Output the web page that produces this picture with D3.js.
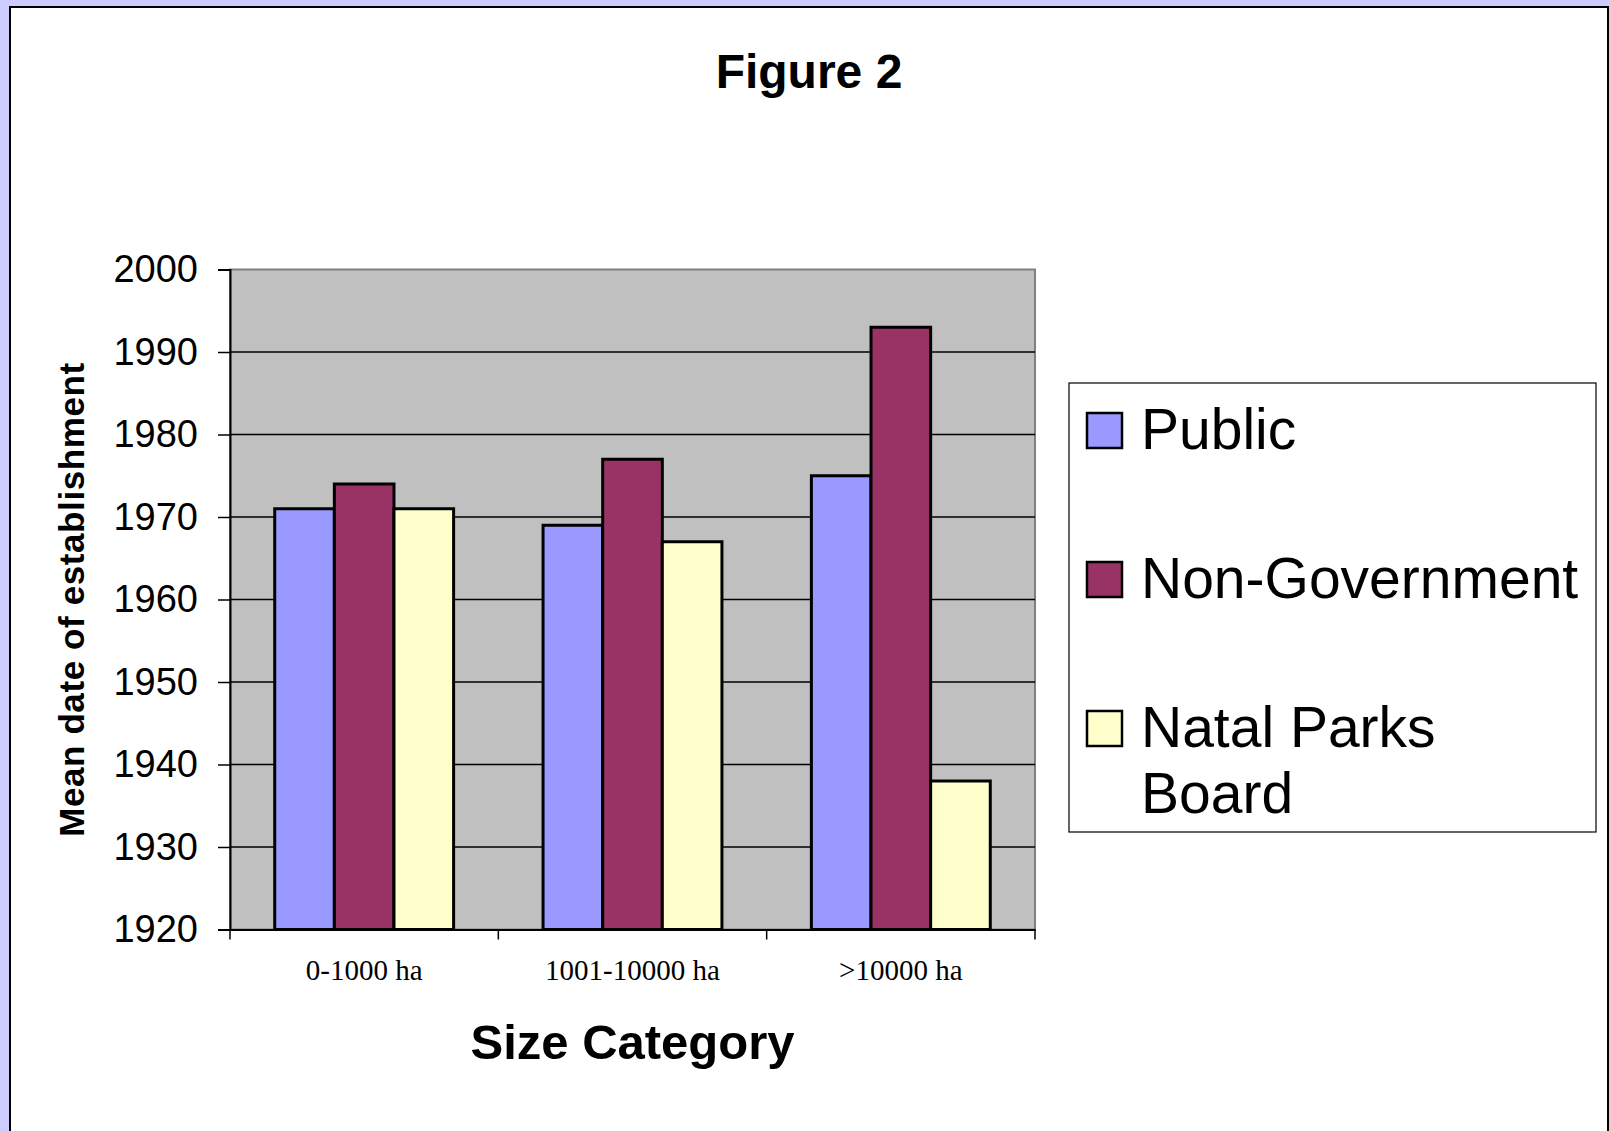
<!DOCTYPE html>
<html lang="en">
  <head>
    <meta charset="UTF-8" />
    <title>Figure 2</title>
    <script src="https://cdn.jsdelivr.net/npm/d3@7"></script>
    <style>
      body {
        margin: 0;
        overflow: hidden;
        background: #ccccff;
      }
    </style>
  </head>
  <body>
    <script>
      const svgWidth = 1610;
      const svgHeight = 1131;

      const categories = ["0-1000 ha", "1001-10000 ha", ">10000 ha"];
      const seriesNames = ["Public", "Non-Government", "Natal Parks Board"];
      const publicValues = [1971, 1969, 1975];
      const nonGovValues = [1974, 1977, 1993];
      const natalParksValues = [1971, 1967, 1938];
      const yTicks = [1920, 1930, 1940, 1950, 1960, 1970, 1980, 1990, 2000];
      const colors = ["#9999ff", "#993366", "#ffffcc"];

      const series = [publicValues, nonGovValues, natalParksValues];

      const plot = { left: 230, top: 269.5, right: 1035, bottom: 929.5 };

      const svg = d3
        .select("body")
        .append("svg")
        .attr("width", svgWidth)
        .attr("height", svgHeight);

      // white panel with black frame
      svg
        .append("rect")
        .attr("x", 10)
        .attr("y", 7)
        .attr("width", 1598)
        .attr("height", 1150)
        .attr("fill", "#fff")
        .attr("stroke", "#000")
        .attr("stroke-width", 2);

      svg
        .append("text")
        .attr("x", 809)
        .attr("y", 88)
        .attr("text-anchor", "middle")
        .style("font-family", "'Liberation Sans', Arial, sans-serif")
        .style("font-weight", "bold")
        .style("font-size", "48px")
        .text("Figure 2");

      const x = d3
        .scaleBand()
        .domain(categories)
        .range([plot.left, plot.right])
        .padding(0);

      const xInner = d3
        .scaleBand()
        .domain(d3.range(seriesNames.length))
        .range([0, x.bandwidth()])
        .paddingInner(0)
        .paddingOuter(0.75);

      const y = d3
        .scaleLinear()
        .domain([1920, 2000])
        .range([plot.bottom, plot.top]);

      // plot area
      svg
        .append("rect")
        .attr("x", plot.left)
        .attr("y", plot.top)
        .attr("width", plot.right - plot.left)
        .attr("height", plot.bottom - plot.top)
        .attr("fill", "#c0c0c0")
        .attr("stroke", "#808080")
        .attr("stroke-width", 2);

      // gridlines
      svg
        .append("g")
        .selectAll("line")
        .data(yTicks.slice(1, -1))
        .join("line")
        .attr("x1", plot.left)
        .attr("x2", plot.right)
        .attr("y1", (d) => y(d))
        .attr("y2", (d) => y(d))
        .attr("stroke", "#000")
        .attr("stroke-width", 1.3);

      // bars
      const groups = svg
        .append("g")
        .selectAll("g")
        .data(categories)
        .join("g")
        .attr("transform", (d) => `translate(${x(d)},0)`);

      groups
        .selectAll("rect")
        .data((d, ci) => series.map((s, si) => ({ si, value: s[ci] })))
        .join("rect")
        .attr("x", (d) => xInner(d.si))
        .attr("width", xInner.bandwidth())
        .attr("y", (d) => y(d.value))
        .attr("height", (d) => y(1920) - y(d.value))
        .attr("fill", (d) => colors[d.si])
        .attr("stroke", "#000")
        .attr("stroke-width", 3);

      // y axis
      const yAxis = svg
        .append("g")
        .attr("transform", `translate(${plot.left},0)`)
        .call(
          d3.axisLeft(y).tickValues(yTicks).tickFormat(d3.format("d")).tickSize(12).tickPadding(20)
        );
      yAxis.select(".domain").attr("stroke", "#000").attr("stroke-width", 2);
      yAxis.selectAll(".tick line").attr("stroke", "#000").attr("stroke-width", 1.5);
      yAxis
        .selectAll("text")
        .attr("fill", "#000")
        .style("font-family", "'Liberation Sans', Arial, sans-serif")
        .style("font-size", "38px");

      // x axis: labels centred, ticks on category boundaries
      const xAxis = svg
        .append("g")
        .attr("transform", `translate(0,${plot.bottom})`)
        .call(d3.axisBottom(x).tickSize(0).tickSizeOuter(0));
      xAxis.select(".domain").attr("stroke", "#000").attr("stroke-width", 2);
      xAxis
        .selectAll("text")
        .attr("y", 50)
        .attr("dy", null)
        .attr("fill", "#000")
        .style("font-family", "'Liberation Serif', 'Times New Roman', serif")
        .style("font-size", "29px");

      const bounds = categories.map((c) => x(c)).concat([x(categories[categories.length - 1]) + x.bandwidth()]);
      xAxis
        .selectAll(".bound")
        .data(bounds)
        .join("line")
        .attr("class", "bound")
        .attr("x1", (d) => d)
        .attr("x2", (d) => d)
        .attr("y1", 0)
        .attr("y2", 10)
        .attr("stroke", "#000")
        .attr("stroke-width", 1.5);

      svg
        .append("text")
        .attr("x", (plot.left + plot.right) / 2)
        .attr("y", 1059)
        .attr("text-anchor", "middle")
        .style("font-family", "'Liberation Sans', Arial, sans-serif")
        .style("font-weight", "bold")
        .style("font-size", "49px")
        .text("Size Category");

      svg
        .append("text")
        .attr("transform", `translate(84,${(plot.top + plot.bottom) / 2}) rotate(-90)`)
        .attr("text-anchor", "middle")
        .style("font-family", "'Liberation Sans', Arial, sans-serif")
        .style("font-weight", "bold")
        .style("font-size", "35px")
        .style("letter-spacing", "0.6px")
        .text("Mean date of establishment");

      // legend
      const legend = svg.append("g");
      legend
        .append("rect")
        .attr("x", 1069)
        .attr("y", 383)
        .attr("width", 527)
        .attr("height", 449)
        .attr("fill", "#fff")
        .attr("stroke", "#000")
        .attr("stroke-width", 1.2);

      const legendLines = [["Public"], ["Non-Government"], ["Natal Parks", "Board"]];
      const items = legend
        .selectAll(".item")
        .data(seriesNames)
        .join("g")
        .attr("class", "item")
        .attr("transform", (d, i) => `translate(1087,${449 + i * 149})`);

      items
        .append("rect")
        .attr("x", 0)
        .attr("y", -36)
        .attr("width", 35)
        .attr("height", 35)
        .attr("fill", (d, i) => colors[i])
        .attr("stroke", "#000")
        .attr("stroke-width", 2.5);

      items
        .append("text")
        .attr("x", 54)
        .style("font-family", "'Liberation Sans', Arial, sans-serif")
        .style("font-size", "57px")
        .selectAll("tspan")
        .data((d, i) => legendLines[i])
        .join("tspan")
        .attr("x", 54)
        .attr("dy", (d, j) => (j === 0 ? 0 : 66))
        .text((d) => d);
    </script>
  </body>
</html>
